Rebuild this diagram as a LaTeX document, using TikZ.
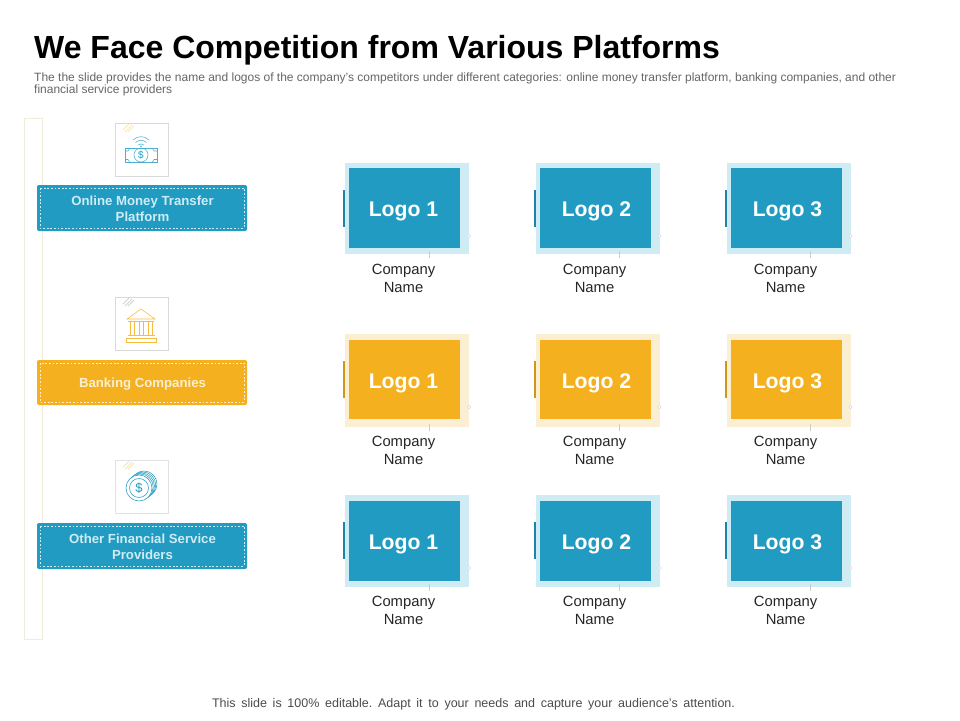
\documentclass[tikz,border=0pt]{standalone}
\usepackage{fontspec}
\setmainfont{Liberation Sans}
\definecolor{cblue}{HTML}{219BC2}
\definecolor{cbluel}{HTML}{CFECF4}
\definecolor{cgold}{HTML}{F4B01F}
\definecolor{cgoldl}{HTML}{FAEFD3}
\definecolor{cside}{HTML}{EFEDD9}
\definecolor{cgray}{HTML}{666666}
\tikzset{
  banner/.style={fill=#1,draw=none,rounded corners=2pt},
  dashin/.style={draw=#1,line width=.45pt,dash pattern=on 1.8pt off 1.8pt},
  bannertext/.style={text=#1,font=\bfseries\fontsize{13.2}{16}\selectfont,align=center},
  logotext/.style={text=white,font=\bfseries\fontsize{21.2}{24}\selectfont},
  nametext/.style={text=black!85,font=\fontsize{14.8}{18}\selectfont,align=center},
  iconbox/.style={draw=#1,line width=.6pt,fill=white},
  hatch/.style={draw=#1,line width=.7pt},
  iconline/.style={draw=#1,line width=.55pt},
}
\newcommand{\logocard}[7]{%
  \pgfmathsetmacro{\xa}{#2}
  \fill[#7l] (\xa,#3) rectangle (\xa+124,#4);
  \fill[#7] (\xa+4,#5) rectangle (\xa+115,#6);
  \fill[#7!85!black] (\xa-2,#3+27) rectangle (\xa,#3+64);
  \draw[black!20,line width=.6pt] (\xa+84,#4-3) -- (\xa+84,#4+4);
  \draw[black!15,fill=white,line width=.5pt] (\xa+124,#3+73) circle (1.8);
}
\begin{document}
\begin{tikzpicture}[x=1pt,y=-1pt]
\useasboundingbox (0,0) rectangle (960,720);
\fill[white] (0,0) rectangle (960,720);
\node[anchor=base west,inner sep=0,font=\bfseries\fontsize{32}{36}\selectfont,text=black] (title) at (34,58) {We Face Competition from Various Platforms};
\node[anchor=north west,inner sep=0,text=cgray,font=\fontsize{12}{12.2}\selectfont,align=left] (sub) at (34,72.3) {The the slide provides the name and logos of the company’s competitors under different categories: online money transfer platform, banking companies, and other\\financial service providers};
% side bar
\draw[cside,line width=.8pt] (24.5,118.5) rectangle (42,639.5);
% icon boxes
\node[iconbox=black!15,minimum width=53,minimum height=53,inner sep=0,anchor=center] (ib1) at (141.5,149.5) {};
\node[iconbox=black!15,minimum width=53,minimum height=53,inner sep=0,anchor=center] (ib2) at (141.5,323.5) {};
\node[iconbox=cbluel!60!black!25,minimum width=53,minimum height=53,inner sep=0,anchor=center] (ib3) at (141.5,486.5) {};
% hatches
\foreach \y/\c in {123/cgold!40,297/black!20,460/cgold!40}{
  \draw[hatch=\c] (123,\y+7) -- (129,\y+1);
  \draw[hatch=\c] (125,\y+9) -- (132,\y+2);
  \draw[hatch=\c] (128,\y+9) -- (134,\y+3);
}
% icon 1: money + wifi
\begin{scope}[iconline=cblue!80]
  \draw (125,148) -- (157,148) -- (157,162.5) -- (125,162.5) -- cycle;
  \draw (125,151) -- (128,151) -- (130,148);
  \draw (157,151) -- (154,151) -- (152,148);
  \draw (125,159.5) -- (128,159.5) -- (130,162.5);
  \draw (157,159.5) -- (154,159.5) -- (152,162.5);
  \draw (141,155) circle (7);
  \node[inner sep=0,text=cblue,font=\fontsize{10}{10}\selectfont] (dollar1) at (141,155) {\$};
  \draw (133,140) .. controls (138,135.5) and (144,135.5) .. (149,140);
  \draw (135.5,142.5) .. controls (139,139.5) and (143,139.5) .. (146.5,142.5);
  \draw (138,145) .. controls (140,143.5) and (142,143.5) .. (144,145);
\end{scope}
\fill[cblue!80] (141,146.2) circle (.9);
% icon 2: bank
\begin{scope}[iconline=cgold!85]
  \draw (127,319) -- (141,309) -- (155,319) -- cycle;
  \draw (128,321) -- (154,321);
  \foreach \x in {130,134,139,143,148,152}{ \draw (\x,321) -- (\x,335); }
  \draw (127.5,335.5) -- (154.5,335.5);
  \draw (126,338) rectangle (156,342);
\end{scope}
% icon 3: coins
\begin{scope}[iconline=cblue]
  \foreach \d in {10,7.5,5,2.5}{ \draw[fill=white] (139+\d*.5,488-\d*.4) circle (13); }
  \draw[fill=white] (139,488) circle (13);
  \draw (139,488) circle (9.5);
  \node[inner sep=0,text=cblue,font=\fontsize{13}{13}\selectfont] (dollar3) at (139,488) {\$};
\end{scope}
% banners
\foreach \ya/\yb/\c/\d in {185/231/cblue/cbluel,360/405/cgold/cgoldl,523/569/cblue/cbluel}{
  \fill[banner=\c] (37,\ya) rectangle (247,\yb);
  \draw[dashin=\d] (40,\ya+3) rectangle (244,\yb-3);
}
\node[bannertext=cbluel] (b1) at (142.5,208.5) {Online Money Transfer\\Platform};
\node[bannertext=cgoldl] (b2) at (142.5,384.5) {Banking Companies};
\node[bannertext=cbluel] (b3) at (142.5,546.5) {Other Financial Service\\Providers};
% logo cards
\foreach \xa/\xl/\xn/\n [count=\i] in {345/403.5/403.5/1,535.5/596.5/594.5/2,726.5/787.5/785.5/3}{
  \logocard{a\i}{\xa}{163}{254}{168}{248}{cblue}
  \logocard{b\i}{\xa}{334}{427}{340}{419}{cgold}
  \logocard{c\i}{\xa}{495}{587}{501}{581}{cblue}
  \node[logotext] (la\i) at (\xl,211.5) {Logo \n};
  \node[logotext] (lb\i) at (\xl,383.5) {Logo \n};
  \node[logotext] (lc\i) at (\xl,544.5) {Logo \n};
  \node[nametext] (na\i) at (\xn,278) {Company\\Name};
  \node[nametext] (nb\i) at (\xn,450) {Company\\Name};
  \node[nametext] (nc\i) at (\xn,610) {Company\\Name};
}
\node[anchor=base,inner sep=0,text=black!70,font=\fontsize{12.5}{14}\selectfont] (foot) at (473.5,707.5) {\frenchspacing\spaceskip=5.7pt\relax This slide is 100\% editable. Adapt it to your needs and capture your audience's attention.};
\end{tikzpicture}
\end{document}
